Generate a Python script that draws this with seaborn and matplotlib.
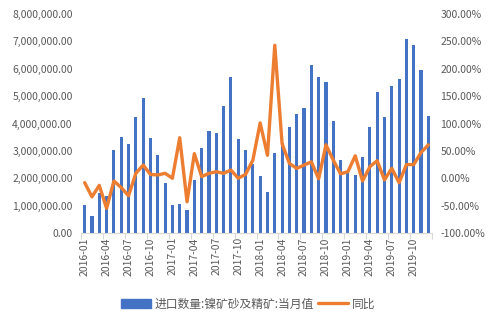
import numpy as np
import pandas as pd
import matplotlib
matplotlib.use("Agg")
import matplotlib.pyplot as plt
import seaborn as sns
from matplotlib.ticker import FuncFormatter, FixedLocator
from matplotlib.patches import Patch
from matplotlib.lines import Line2D

months = [f"{y}-{m:02d}" for y in range(2016, 2020) for m in range(1, 13)]
volume = [1.02e6, 0.62e6, 1.47e6, 1.35e6, 3.03e6, 3.51e6, 3.25e6, 4.24e6, 4.93e6, 3.48e6, 2.85e6, 1.84e6,
          1.02e6, 1.06e6, 0.84e6, 1.93e6, 3.11e6, 3.72e6, 3.66e6, 4.64e6, 5.69e6, 3.43e6, 3.03e6, 2.52e6,
          2.08e6, 1.50e6, 2.92e6, 3.30e6, 3.88e6, 4.34e6, 4.56e6, 6.13e6, 5.69e6, 5.51e6, 4.09e6, 2.66e6,
          2.24e6, 2.13e6, 2.78e6, 3.88e6, 5.16e6, 4.24e6, 5.36e6, 5.62e6, 7.08e6, 6.86e6, 5.95e6, 4.27e6]
yoy = [-8, -34, -13, -55, -5, -17, -32, 9, 24, 7, 6, 9,
       0, 74, -43, 45, 3, 9, 12, 9, 15, 0, 7, 33,
       101, 42, 243, 63, 27, 18, 24, 30, -1, 61, 33, 8,
       12, 41, -5, 21, 32, -3, 18, -8, 25, 25, 47, 61]
label_vol = "进口数量:镍矿砂及精矿:当月值"
label_yoy = "同比"

df = pd.DataFrame({"month": months, "volume": volume, "yoy": yoy})
df["pos"] = np.arange(len(df))

sns.set_theme(style="white")
plt.rcParams["font.family"] = ["Noto Sans CJK SC", "DejaVu Sans"]

txt = "#595959"
blue = "#4472C4"
orange = "#ED7D31"

fig = plt.figure(figsize=(4.96, 3.24), dpi=100)
ax = fig.add_axes([81/496, 1 - 233/324, 351/496, 219/324])
sns.barplot(data=df, x="month", y="volume", color=blue, width=0.42, ax=ax, saturation=1, linewidth=0)
ax.set_xlim(-0.5, len(df) - 0.5)
ax.set_ylim(0, 8e6)
ax.set_yticks(np.arange(0, 8.01e6, 1e6))
ax.yaxis.set_major_formatter(FuncFormatter(lambda v, p: f"{v:,.2f}"))
ax.set_xlabel("")
ax.set_ylabel("")
ax.set_xticks(np.arange(0, len(df), 3))
ax.set_xticklabels(months[::3], rotation=90)
ax.xaxis.set_minor_locator(FixedLocator(np.arange(-0.5, len(df), 3)))
ax.tick_params(axis="x", which="major", length=0, pad=3, labelsize=7.5, labelcolor=txt)
ax.tick_params(axis="x", which="minor", length=4, color="#D9D9D9", width=0.8, direction="out", bottom=True)
ax.tick_params(axis="y", length=0, labelsize=7.5, labelcolor=txt, pad=6)
for s in ["top", "left", "right"]:
    ax.spines[s].set_visible(False)
ax.spines["bottom"].set_color("#D9D9D9")
ax.spines["bottom"].set_linewidth(0.8)

ax2 = ax.twinx()
sns.lineplot(data=df, x="pos", y="yoy", color=orange, linewidth=2.4, ax=ax2)
ax2.set_ylim(-100, 300)
ax2.set_yticks(np.arange(-100, 301, 50))
ax2.yaxis.set_major_formatter(FuncFormatter(lambda v, p: f"{v:.2f}%"))
ax2.set_ylabel("")
ax2.tick_params(axis="y", length=0, labelsize=7.5, labelcolor=txt, pad=6)
for s in ["top", "left", "right", "bottom"]:
    ax2.spines[s].set_visible(False)
ax2.set_xlim(-0.5, len(df) - 0.5)

handles = [Patch(facecolor=blue, edgecolor=blue), Line2D([0], [0], color=orange, linewidth=2.4)]
fig.legend(handles, [label_vol, label_yoy], loc="center", bbox_to_anchor=(248/496, 1 - 304/324),
           ncol=2, frameon=False, fontsize=8.5, labelcolor=txt, handlelength=2.6, handletextpad=0.3,
           columnspacing=0.3)

fig.savefig("out.png", dpi=100)
